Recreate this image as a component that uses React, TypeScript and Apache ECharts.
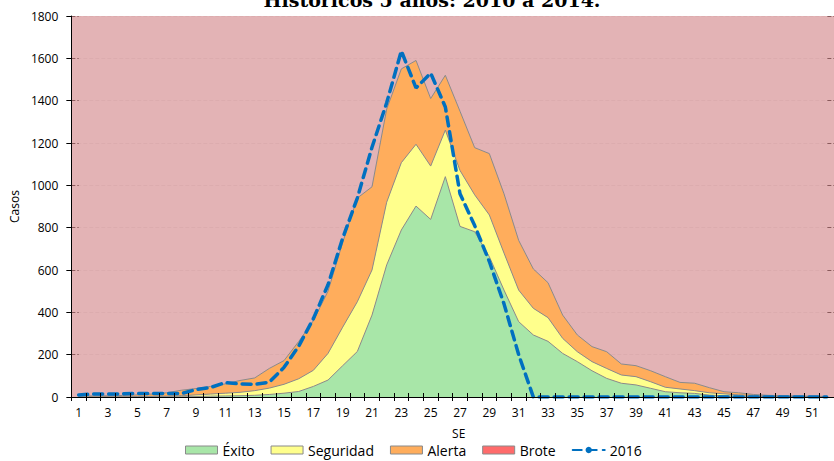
import React, { useEffect, useRef } from "react";
import * as echarts from "echarts";

const weeks: string[] = [
  "1","2","3","4","5","6","7","8","9","10","11","12","13","14","15","16","17","18","19","20","21","22","23","24","25","26",
  "27","28","29","30","31","32","33","34","35","36","37","38","39","40","41","42","43","44","45","46","47","48","49","50","51","52",
];

const exito: number[] = [
  0, 0, 0, 0, 0, 1, 1, 1, 2, 4, 5, 6, 8, 12, 18, 26, 50, 80, 148, 215, 387, 624, 789, 902, 839, 1041,
  806, 781, 663, 505, 356, 293, 263, 206, 167, 124, 88, 65, 57, 41, 25, 20, 17, 9, 6, 4, 3, 2, 1, 1, 1, 0,
];

const seguridad: number[] = [
  0, 0, 1, 1, 2, 2, 3, 5, 8, 10, 13, 16, 22, 30, 42, 60, 76, 126, 182, 235, 213, 296, 318, 292, 252, 220,
  264, 174, 197, 175, 149, 126, 112, 71, 47, 43, 47, 39, 39, 31, 21, 18, 13, 11, 9, 6, 4, 3, 3, 2, 1, 2,
];

const alerta: number[] = [
  5, 5, 5, 6, 8, 11, 16, 26, 30, 36, 44, 56, 60, 93, 112, 176, 234, 294, 400, 490, 393, 440, 443, 396, 319, 259,
  280, 223, 290, 280, 235, 186, 165, 110, 79, 71, 79, 52, 52, 52, 50, 31, 35, 24, 10, 10, 5, 3, 2, 2, 2, 1,
];

const brote: number[] = [
  1795, 1795, 1794, 1793, 1790, 1786, 1780, 1768, 1760, 1750, 1738, 1722, 1710, 1665, 1628, 1538, 1440, 1300, 1070, 860, 807, 440, 250, 210, 390, 280,
  450, 622, 650, 840, 1060, 1195, 1260, 1413, 1507, 1562, 1586, 1644, 1652, 1676, 1704, 1731, 1735, 1756, 1775, 1780, 1788, 1792, 1794, 1795, 1796, 1797,
];

const y2016: number[] = [
  10, 14, 14, 15, 17, 17, 16, 16, 35, 45, 68, 62, 60, 70, 140, 240, 370, 530, 750, 940, 1180, 1390, 1635, 1460, 1530, 1370,
  960, 810, 640, 440, 200, 0, 0, 0, 0, 0, 0, 0, 0, 0, 0, 0, 0, 0, 0, 0, 0, 0, 0, 0, 0, 0,
];

const yTicks = { min: 0, max: 1800, interval: 200 };

const FONT = "Open Sans";
const PINK = "#E3B3B5";

export default function App() {
  const ref = useRef<HTMLDivElement>(null);

  useEffect(() => {
    if (!ref.current) return;
    const chart = echarts.init(ref.current, undefined, { renderer: "svg" });

    const areaSeries = (name: string, data: number[], color: string, opacity = 1) => ({
      name,
      type: "line",
      stack: "hist",
      data,
      symbol: "none",
      showSymbol: false,
      lineStyle: { color: "#8a8a8a", width: 1 },
      itemStyle: { color },
      areaStyle: { color, opacity },
      z: 2,
    });

    chart.setOption({
      animation: false,
      backgroundColor: "#ffffff",
      textStyle: { fontFamily: FONT },
      graphic: [
        {
          type: "text",
          x: 432,
          y: 9,
          style: {
            text: "Históricos 5 años: 2010 a 2014.",
            fontFamily: "DejaVu Serif",
            fontWeight: "bold",
            fontSize: 19,
            fill: "#000",
            align: "center",
            verticalAlign: "bottom",
          },
        },
      ],
      grid: {
        left: 70,
        top: 16,
        right: -6,
        bottom: 64,
        show: true,
        backgroundColor: PINK,
        borderWidth: 0,
      },
      legend: {
        left: 185,
        top: 443,
        padding: 0,
        itemWidth: 32,
        itemHeight: 8,
        itemGap: 16,
        textStyle: { fontFamily: FONT, fontSize: 14, color: "#000" },
        data: [
          { name: "Éxito", icon: "rect", itemStyle: { color: "#A8E6A8", borderColor: "#8a8a8a", borderWidth: 1 } },
          { name: "Seguridad", icon: "rect", itemStyle: { color: "#FFFF8C", borderColor: "#8a8a8a", borderWidth: 1 } },
          { name: "Alerta", icon: "rect", itemStyle: { color: "#FFAD5C", borderColor: "#8a8a8a", borderWidth: 1 } },
          { name: "Brote", icon: "rect", itemStyle: { color: "#FF6B6B", borderColor: "#8a8a8a", borderWidth: 1 } },
          { name: "2016" },
        ],
      },
      xAxis: [
        {
          type: "category",
          data: weeks,
          boundaryGap: true,
          name: "SE",
          nameLocation: "middle",
          nameGap: 30,
          nameTextStyle: { fontFamily: FONT, fontSize: 12, color: "#000", padding: [0, 0, 0, 12] },
          axisLine: { show: true, lineStyle: { color: "#000", width: 1 } },
          axisTick: { show: true, interval: 0, length: 4, inside: false, lineStyle: { color: "#000" } },
          axisLabel: { interval: 1, margin: 9, fontFamily: FONT, fontSize: 12, color: "#000" },
          splitLine: { show: false },
          z: 5,
        },
        {
          type: "category",
          data: weeks,
          boundaryGap: true,
          position: "bottom",
          axisLine: { show: false },
          axisTick: { show: true, interval: 0, length: 4, inside: true, lineStyle: { color: "#000" } },
          axisLabel: { show: false },
          splitLine: { show: false },
          z: 5,
        },
      ],
      yAxis: {
        type: "value",
        min: yTicks.min,
        max: yTicks.max,
        interval: yTicks.interval,
        name: "Casos",
        nameLocation: "middle",
        nameGap: 48,
        nameTextStyle: { fontFamily: FONT, fontSize: 12, color: "#000" },
        axisLine: { show: true, lineStyle: { color: "#000", width: 1 } },
        axisTick: { show: true, length: 5, lineStyle: { color: "#000" } },
        axisLabel: {
          margin: 13,
          fontFamily: FONT,
          fontSize: 12,
          color: "#000",
          formatter: (v: number) => String(v),
        },
        splitLine: { show: true, lineStyle: { color: "#8a5a5c", type: "dashed", width: 1 } },
      },
      series: [
        areaSeries("Éxito", exito, "#A8E6A8"),
        areaSeries("Seguridad", seguridad, "#FFFF8C"),
        areaSeries("Alerta", alerta, "#FFAD5C"),
        {
          ...areaSeries("Brote", brote, PINK, 0.92),
          lineStyle: { width: 0, opacity: 0 },
          itemStyle: { color: "#FF6B6B" },
        },
        {
          name: "2016",
          type: "line",
          data: y2016,
          symbol: "none",
          showSymbol: false,
          lineStyle: { color: "#0070C0", width: 3.5, type: [9, 6], cap: "round" },
          itemStyle: { color: "#0070C0" },
          z: 4,
        },
      ],
    });

    return () => chart.dispose();
  }, []);

  return (
    <div
      ref={ref}
      style={{ position: "fixed", left: 0, top: 0, width: 834, height: 461 }}
    />
  );
}
